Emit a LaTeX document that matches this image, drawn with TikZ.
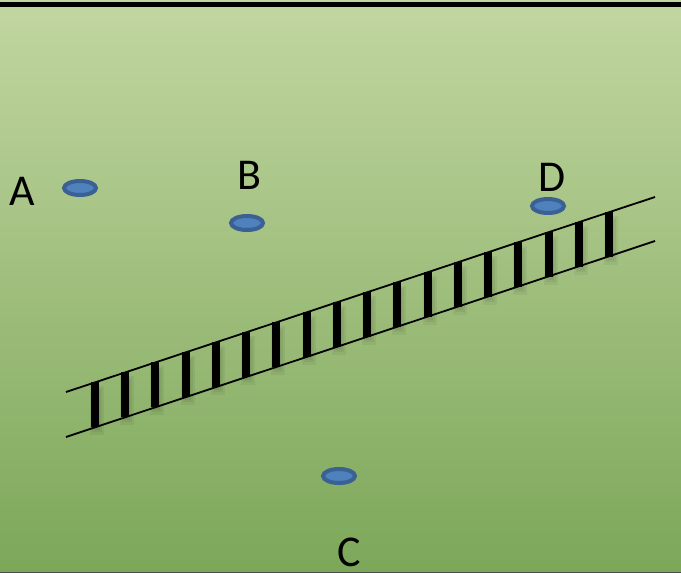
\documentclass[tikz,border=0pt]{standalone}
\usepackage{fontspec}
\setmainfont{Carlito}
\definecolor{fieldtop}{RGB}{194,214,161}
\definecolor{fieldbot}{RGB}{124,167,89}
\definecolor{spotfill}{RGB}{79,129,189}
\definecolor{spotline}{RGB}{58,96,148}
\tikzset{
	spot/.style={draw=spotline, fill=spotfill, line width=4pt},
	letter/.style={inner sep=0pt, font=\fontsize{44}{48}\selectfont},
	rail/.style={line width=1.8pt},
	tie/.style={line width=8pt},
	tieshade/.style={black, opacity=.05},
}
\begin{document}
	\begin{tikzpicture}[x=1pt,y=-1pt]
		\useasboundingbox (0,0) rectangle (681,573);
		\shade[top color=fieldtop, bottom color=fieldbot] (0,0) rectangle (681,573);
		\fill (0,1.5) rectangle (681,6.5);
		\fill[black!70] (0,571.5) rectangle (681,573);

		% the track
		\coordinate (r1) at (66,392);
		\coordinate (r2) at (655,197);
		\coordinate (s1) at (66,437);
		\coordinate (s2) at (655,241);
		\draw[rail] (r1) -- (r2);
		\draw[rail] (s1) -- (s2);

		\foreach \i in {0,...,17} {
			\pgfmathsetmacro{\tx}{95+30.24*\i}
			\pgfmathsetmacro{\ty}{392-0.3311*(\tx-66)}
			\fill[tieshade] (\tx-5,\ty+4) rectangle (\tx+9,\ty+53);
			\fill[tieshade] (\tx-3,\ty+6) rectangle (\tx+7,\ty+50);
			\fill[tieshade] (\tx-1,\ty+8) rectangle (\tx+5,\ty+48);
			\draw[tie] (\tx,\ty) -- (\tx,\ty+45);
		}

		\draw[spot] (80,188) ellipse (16 and 7);
		\draw[spot] (247,223) ellipse (16 and 7);
		\draw[spot] (548,206) ellipse (16 and 7);
		\draw[spot] (339,476) ellipse (16 and 7);

		\node[letter] (a) at (22,191) {A};
		\node[letter] (b) at (249,175) {B};
		\node[letter] (d) at (552,177) {D};
		\node[letter] (c) at (349,552) {C};
	\end{tikzpicture}
\end{document}
